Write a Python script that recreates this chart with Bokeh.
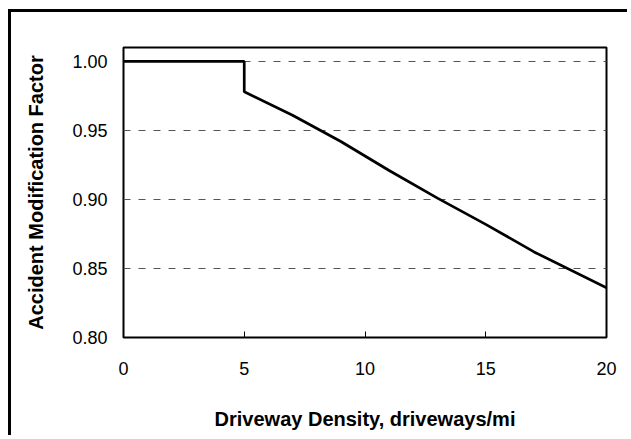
from bokeh.plotting import figure
from bokeh.models import Range1d, FixedTicker, NumeralTickFormatter
from bokeh.embed import file_html
from bokeh.resources import INLINE

density = [0, 5, 5, 7, 9, 11, 13, 15, 17, 20]
amf = [1.0, 1.0, 0.978, 0.961, 0.942, 0.921, 0.901, 0.882, 0.862, 0.836]
x_ticks = [0, 5, 10, 15, 20]
y_ticks = [0.80, 0.85, 0.90, 0.95, 1.00]

FONT = "Liberation Sans"

p = figure(width=619, height=426, output_backend="svg", toolbar_location=None,
           x_range=Range1d(0, 20), y_range=Range1d(0.80, 1.0101),
           min_border_left=112, min_border_right=24, min_border_top=35, min_border_bottom=101)
p.styles = {"margin-left": "8px", "margin-top": "9px",
            "border-top": "3px solid black", "border-left": "3px solid black"}

p.line(density, amf, line_color="black", line_width=2.7)

p.outline_line_color = "black"
p.outline_line_width = 2
p.background_fill_color = "white"
p.border_fill_color = "white"

p.xgrid.grid_line_color = None
p.ygrid.grid_line_color = "#555555"
p.ygrid.grid_line_dash = "7 8"
p.ygrid.grid_line_width = 1
p.ygrid.ticker = FixedTicker(ticks=y_ticks)

p.xaxis.ticker = FixedTicker(ticks=x_ticks)
p.yaxis.ticker = FixedTicker(ticks=y_ticks)
p.yaxis.formatter = NumeralTickFormatter(format="0.00")

for ax in (p.xaxis[0], p.yaxis[0]):
    ax.axis_line_color = None
    ax.minor_tick_line_color = None
    ax.major_tick_out = 0
    ax.major_label_text_font = FONT
    ax.major_label_text_font_size = "18px"
    ax.major_label_text_color = "black"
    ax.axis_label_text_font = FONT
    ax.axis_label_text_font_size = "20px"
    ax.axis_label_text_font_style = "bold"
    ax.axis_label_text_color = "black"

p.xaxis.major_tick_in = 6
p.xaxis.major_tick_line_color = "black"
p.xaxis.major_tick_line_width = 1
p.yaxis.major_tick_in = 0
p.yaxis.major_tick_line_color = None
p.xaxis.major_label_standoff = 24
p.yaxis.major_label_standoff = 16
p.xaxis.axis_label = "Driveway Density, driveways/mi"
p.yaxis.axis_label = "Accident Modification Factor"
p.xaxis.axis_label_standoff = 30
p.yaxis.axis_label_standoff = 22

open("out.html", "w").write(file_html(p, INLINE))
